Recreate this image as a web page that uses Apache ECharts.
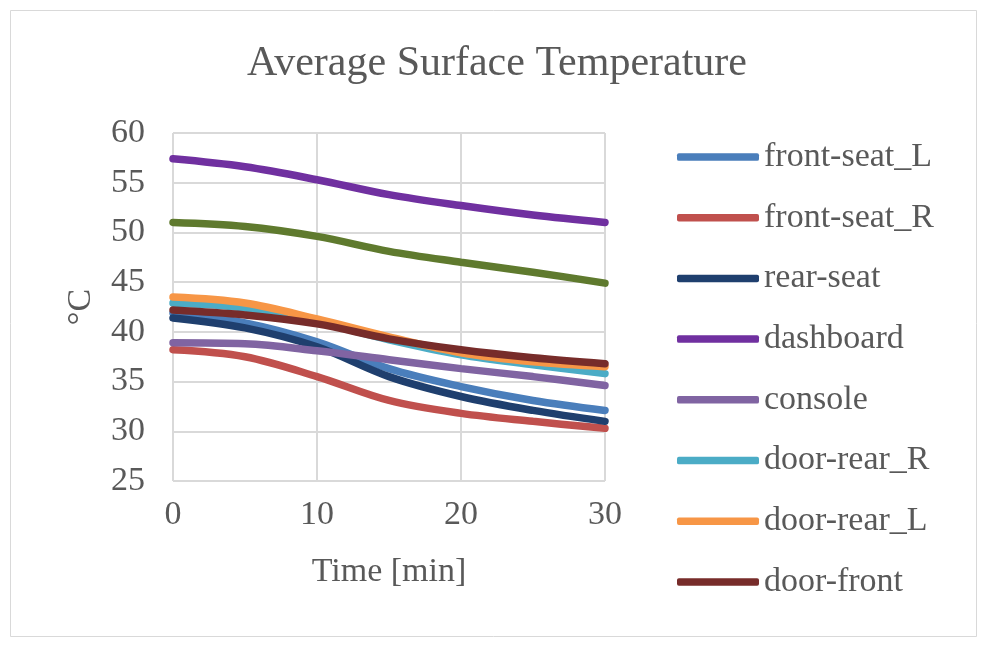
<!DOCTYPE html>
<html><head><meta charset="utf-8">
<script src="https://cdn.jsdelivr.net/npm/echarts@6/dist/echarts.min.js"></script>
<style>html,body{margin:0;padding:0;background:#fff}#c{width:985px;height:649px}</style>
</head><body><div id="c"></div>
<script>
const times = [0, 5, 10, 15, 20, 25, 30];
const frontSeatL = [41.9, 40.9, 39.0, 36.3, 34.5, 33.1, 32.1];
const frontSeatR = [38.2, 37.5, 35.5, 33.1, 31.8, 31.0, 30.3];
const rearSeat   = [41.4, 40.4, 38.5, 35.5, 33.5, 32.1, 31.0];
const dashboard  = [57.4, 56.6, 55.3, 53.8, 52.7, 51.75, 51.0];
const consoleT   = [38.9, 38.8, 38.1, 37.2, 36.3, 35.5, 34.6];
const doorRearR  = [42.9, 42.4, 41.0, 39.2, 37.7, 36.7, 35.8];
const doorRearL  = [43.5, 42.9, 41.3, 39.5, 37.9, 37.0, 36.5];
const doorFront  = [42.2, 41.7, 40.8, 39.3, 38.2, 37.4, 36.8];
const unlabeled  = [51.0, 50.6, 49.6, 48.1, 47.0, 46.0, 44.9];
const yTicks = [25, 30, 35, 40, 45, 50, 55, 60];
const xTicks = [0, 10, 20, 30];

const FONT = '"Liberation Serif", "Times New Roman", serif';
const GRAY = '#595959';
const seriesDefs = [
  ['front-seat_L', frontSeatL, '#4a7ebb'],
  ['front-seat_R', frontSeatR, '#c0504d'],
  ['rear-seat', rearSeat, '#1f3f6e'],
  ['dashboard', dashboard, '#7030a0'],
  ['console', consoleT, '#8064a2'],
  ['door-rear_R', doorRearR, '#4bacc6'],
  ['door-rear_L', doorRearL, '#f79646'],
  ['door-front', doorFront, '#772c2a'],
  ['', unlabeled, '#5f7a2e']
];
const order = [8, 3, 1, 0, 2, 4, 5, 6, 7];
const series = order.map(i => {
  const [name, vals, color] = seriesDefs[i];
  return {
    name: name || 'other', type: 'line', smooth: 0.35, symbol: 'none',
    data: times.map((t, k) => [t, vals[k]]),
    lineStyle: { width: 7.5, color: color, cap: 'round' },
    itemStyle: { color: color }, z: 2
  };
});

const chart = echarts.init(document.getElementById('c'), null, { renderer: 'canvas' });
chart.setOption({
  animation: false,
  backgroundColor: '#fff',
  graphic: [{ type: 'rect', shape: { x: 10.5, y: 10.5, width: 966, height: 626 },
    style: { fill: 'none', stroke: '#d9d9d9', lineWidth: 1 }, z: -1 }],
  title: {
    text: 'Average Surface Temperature', left: 492, top: 38, textAlign: 'center',
    textStyle: { fontFamily: FONT, fontSize: 42, fontWeight: 'normal', color: GRAY }
  },
  legend: {
    data: seriesDefs.slice(0, 8).map(d => d[0]),
    orient: 'vertical', left: 672, top: 135,
    itemWidth: 82, itemHeight: 7.5, itemGap: 26.7, icon: 'roundRect',
    textStyle: { fontFamily: FONT, fontSize: 34, color: GRAY, lineHeight: 34, padding: [0, 0, 0, 0] }
  },
  grid: { left: 173, top: 133, width: 432, height: 348, containLabel: false },
  xAxis: {
    type: 'value', min: 0, max: 30, interval: 10,
    name: 'Time [min]', nameLocation: 'middle', nameGap: 74,
    nameTextStyle: { fontFamily: FONT, fontSize: 34, color: GRAY },
    axisLine: { show: false }, axisTick: { show: false },
    axisLabel: { fontFamily: FONT, fontSize: 34, color: GRAY, margin: 17 },
    splitLine: { show: true, lineStyle: { color: '#d9d9d9', width: 2 } }
  },
  yAxis: {
    type: 'value', min: 25, max: 60, interval: 5,
    name: '°C', nameLocation: 'middle', nameGap: 75, nameRotate: 90,
    nameTextStyle: { fontFamily: FONT, fontSize: 34, color: GRAY },
    axisLine: { show: false }, axisTick: { show: false },
    axisLabel: { fontFamily: FONT, fontSize: 34, color: GRAY, margin: 28 },
    splitLine: { show: true, lineStyle: { color: '#d9d9d9', width: 2 } }
  },
  series: series
});
</script></body></html>
